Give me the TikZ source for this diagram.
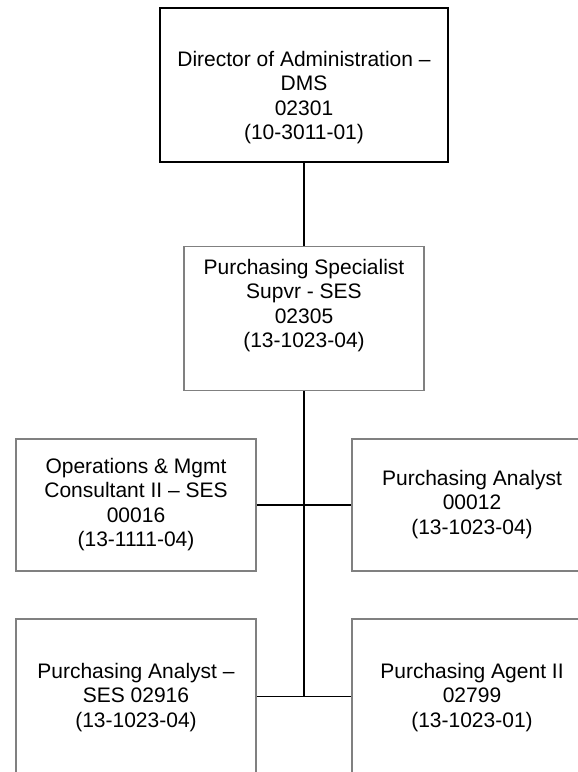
\documentclass[tikz,border=0pt]{standalone}
\usepackage{fontspec}
\setmainfont{Liberation Sans}
\definecolor{boxgray}{HTML}{808080}
\begin{document}
\begin{tikzpicture}[x=1pt,y=-1pt,
  headbox/.style={draw=black, line width=2pt, minimum width=288pt,
    minimum height=154pt, inner sep=0pt},
  unitbox/.style={draw=boxgray, line width=1.5pt, minimum width=240pt,
    minimum height=132pt, inner sep=0pt},
  boxtext/.style={anchor=north, inner sep=0pt, align=center,
    font=\fontsize{21}{24.4}\selectfont},
  link/.style={draw=black, line width=1.8pt}]
  \useasboundingbox (0,0) rectangle (578,772);
  \clip (0,0) rectangle (578,772);

  % boxes
  \node[headbox] (dir) at (304,85) {};
  \node[unitbox, minimum height=144pt] (spec) at (304,318.7) {};
  \node[unitbox] (ops) at (136,505) {};
  \node[unitbox] (pa) at (472,505) {};
  \node[unitbox, minimum height=155pt] (pas) at (136,696.5) {};
  \node[unitbox, minimum height=155pt] (agent) at (472,696.5) {};

  % box texts
  \node[boxtext] (dirtxt) at (304,51) {Director of Administration --\\DMS\\02301\\(10-3011-01)};
  \node[boxtext] (spectxt) at (304,259) {Purchasing Specialist\\Supvr - SES\\02305\\(13-1023-04)};
  \node[boxtext] (opstxt) at (136,458) {Operations \& Mgmt\\Consultant II -- SES\\00016\\(13-1111-04)};
  \node[boxtext] (patxt) at (472,470) {Purchasing Analyst\\00012\\(13-1023-04)};
  \node[boxtext] (pastxt) at (136,663) {Purchasing Analyst --\\SES 02916\\(13-1023-04)};
  \node[boxtext] (agenttxt) at (472,663) {Purchasing Agent II\\02799\\(13-1023-01)};

  % connectors
  \coordinate (trunkend) at (spec.south |- pas.east);
  \draw[link] (dir.south) -- (spec.north);
  \draw[link] (spec.south) -- (trunkend);
  \draw[link] (ops.east) -- (pa.west);
  \draw[link] (pas.east) -- (agent.west);
\end{tikzpicture}
\end{document}
